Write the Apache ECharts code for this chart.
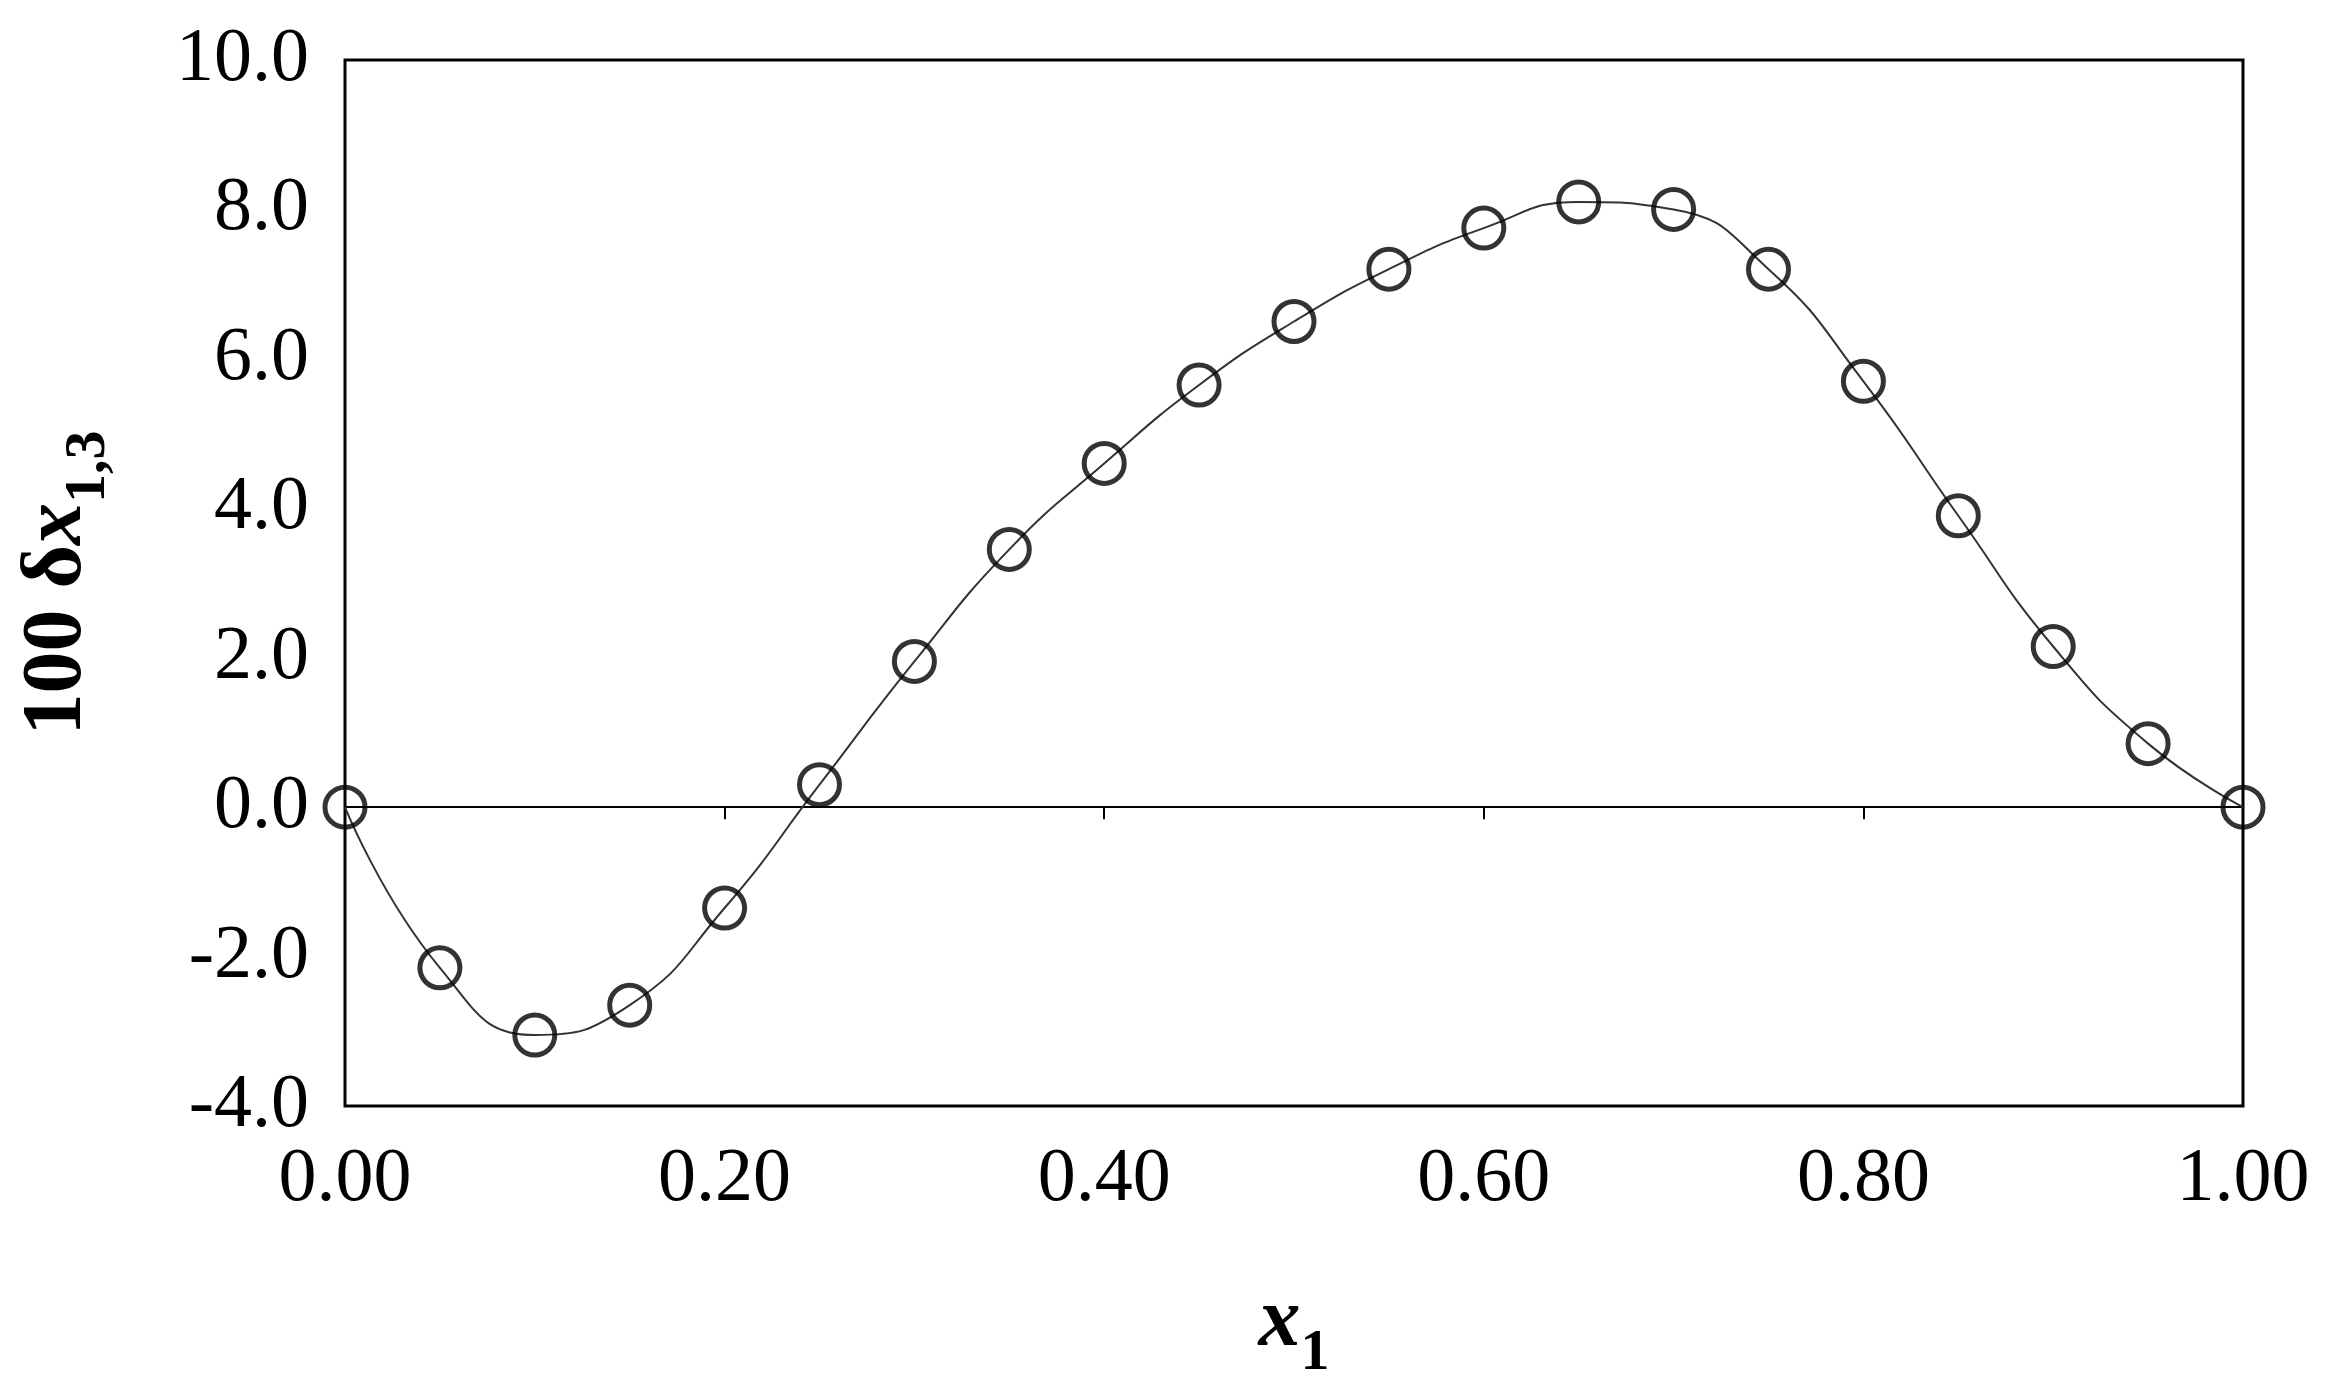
<!DOCTYPE html>
<html><head><meta charset="utf-8">
<script src="https://cdn.jsdelivr.net/npm/echarts@6/dist/echarts.min.js"></script>
<style>html,body{margin:0;background:#fff}#c{width:2334px;height:1389px}</style>
</head><body><div id="c"></div>
<script>
const xValues = [0,0.05,0.10,0.15,0.20,0.25,0.30,0.35,0.40,0.45,0.50,0.55,0.60,0.65,0.70,0.75,0.80,0.85,0.90,0.95,1.00];
const yValues = [0.0,-2.15,-3.05,-2.65,-1.35,0.3,1.95,3.45,4.6,5.65,6.5,7.2,7.75,8.1,8.0,7.2,5.7,3.9,2.15,0.85,0.0];
const xTicks = [0,0.2,0.4,0.6,0.8,1.0];
const yTicks = [-4,-2,0,2,4,6,8,10];
const pts = xValues.map((x,i)=>[x,yValues[i]]);
const font = 'Liberation Serif';
const chart = echarts.init(document.getElementById('c'));
chart.setOption({
  animation:false,
  grid:{left:345,right:91,top:60,bottom:283,show:true,borderColor:'#000',borderWidth:3,backgroundColor:'transparent'},
  xAxis:[{type:'value',min:0,max:1,interval:0.2,position:'bottom',
    axisLine:{onZero:false,show:false},axisTick:{show:false},splitLine:{show:false},
    axisLabel:{fontFamily:font,fontSize:76,color:'#000',margin:36,formatter:v=>v.toFixed(2)},
    name:'{b|x}{s|1}',nameLocation:'middle',nameGap:175,
    nameTextStyle:{rich:{b:{fontFamily:font,fontSize:84,fontWeight:'bold',fontStyle:'italic',color:'#000'},
      s:{fontFamily:font,fontSize:58,fontWeight:'bold',color:'#000',verticalAlign:'bottom',padding:[0,0,-18,0]}}}},
   {type:'value',min:0,max:1,interval:0.2,position:'bottom',
    axisLine:{onZero:true,show:true,lineStyle:{color:'#000',width:2}},
    axisTick:{show:true,inside:false,length:12,lineStyle:{color:'#000',width:2}},
    axisLabel:{show:false},splitLine:{show:false}}],
  yAxis:{type:'value',min:-4,max:10,interval:2,
    axisLine:{show:false},axisTick:{show:false},splitLine:{show:false},
    axisLabel:{fontFamily:font,fontSize:76,color:'#000',margin:36,formatter:v=>v.toFixed(1)},
    name:'{n|100 δ}{b|x}{s|1,3}',nameLocation:'middle',nameGap:245,nameRotate:90,
    nameTextStyle:{rich:{n:{fontFamily:font,fontSize:84,fontWeight:'bold',color:'#000'},
      b:{fontFamily:font,fontSize:84,fontWeight:'bold',fontStyle:'italic',color:'#000'},
      s:{fontFamily:font,fontSize:58,fontWeight:'bold',color:'#000',verticalAlign:'bottom',padding:[0,0,-18,0]}}}},
  series:[
    {type:'line',data:pts,smooth:0.5,showSymbol:false,lineStyle:{color:'#333',width:2},z:1},
    {type:'scatter',data:pts,symbol:'circle',symbolSize:40,
     itemStyle:{color:'rgba(255,255,255,0)',borderColor:'#000',borderWidth:5},z:3}
  ]
});
</script></body></html>
